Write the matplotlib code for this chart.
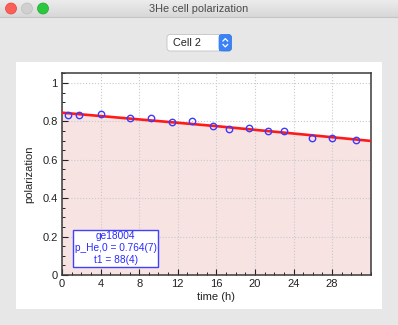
import numpy as np
import matplotlib
matplotlib.use("Agg")
import matplotlib.pyplot as plt
from matplotlib.patches import FancyBboxPatch, Rectangle, Circle
from matplotlib.ticker import MultipleLocator

plt.rcParams['font.family'] = ['Liberation Sans', 'DejaVu Sans']

# measured polarization vs time
time_h = [0.6, 1.8, 4.0, 7.0, 9.2, 11.4, 13.5, 15.65, 17.3, 19.35, 21.4, 23.05, 25.9, 28.0, 30.45]
polar = [0.835, 0.835, 0.836, 0.817, 0.817, 0.798, 0.800, 0.774, 0.758, 0.765, 0.752, 0.750, 0.715, 0.715, 0.705]

# fit curve
fit_t = [0, 16, 32]
fit_p = [0.845, 0.775, 0.698]

cell_name = "Cell 2"
run_id = "ge18004"
p0_text = "p_He,0 = 0.764(7)"
t1_text = "t1 = 88(4)"

W, H = 398, 325
fig = plt.figure(figsize=(W / 100, H / 100), dpi=100)
fig.patch.set_facecolor('#e7e7e7')

# window chrome, drawn in pixel coords
bg = fig.add_axes([0, 0, 1, 1], zorder=0)
bg.set_xlim(0, W)
bg.set_ylim(H, 0)
bg.axis('off')
grad = np.linspace(0, 1, 20).reshape(-1, 1)
bg.imshow(grad, extent=[0, W, 17, 0], cmap=matplotlib.colors.LinearSegmentedColormap.from_list(
    'tb', ['#ececec', '#d8d8d8']), aspect='auto', zorder=1)
bg.plot([0, W], [17, 17], color='#c4c4c4', lw=0.8, zorder=2)
for cx, col, ec in [(11, '#fc5f57', '#df4744'), (27, '#d0d0d0', '#bdbdbd'), (43, '#2ac73f', '#1fa92f')]:
    bg.add_patch(Circle((cx, 8.5), 5.5, facecolor=col, edgecolor=ec, lw=0.5, zorder=3))
bg.text(199, 9, "3He cell polarization", ha='center', va='center', fontsize=7.8, color='#4a4a4a', zorder=3)

# popup button
bg.add_patch(FancyBboxPatch((167, 34.5), 64.5, 16.5, boxstyle='round,pad=0,rounding_size=3',
                            facecolor='white', edgecolor='#c3c3c3', lw=0.6, zorder=3))
bg.add_patch(FancyBboxPatch((219, 34.5), 12.5, 16.5, boxstyle='round,pad=0,rounding_size=3',
                            facecolor='#3a82f7', edgecolor='#3573e0', lw=0.5, zorder=4))
bg.add_patch(Rectangle((219, 34.5), 4, 16.5, facecolor='#3a82f7', edgecolor='none', zorder=4))
bg.plot([223, 225.3, 227.6], [41, 38.6, 41], color='white', lw=0.9, zorder=5)
bg.plot([223, 225.3, 227.6], [44.5, 46.9, 44.5], color='white', lw=0.9, zorder=5)
bg.text(173, 42.5, cell_name, ha='left', va='center', fontsize=7.8, color='#222222', zorder=5)

# white panel behind plot
bg.add_patch(Rectangle((16, 62), 366, 247, facecolor='white', edgecolor='none', zorder=1))

# main plot
ax = fig.add_axes([62 / W, 1 - 275 / H, (370.7 - 62) / W, (275 - 73.3) / H], zorder=2)
ax.fill_between(fit_t, 0, fit_p, color='#f8e3e3', lw=0, zorder=0)
ax.grid(True, which='major', color='#c9c9c9', ls=':', lw=0.8)
ax.set_axisbelow(True)
ax.plot(fit_t, fit_p, color='#ff1a1a', lw=1.9, zorder=3)
ax.plot(time_h, polar, ls='none', marker='o', ms=4.6, mfc='none', mec='#3b3bff', mew=1.0, zorder=4)

ax.set_xlim(0, 32)
ax.set_ylim(0, 1.05)
ax.xaxis.set_major_locator(MultipleLocator(4))
ax.xaxis.set_minor_locator(MultipleLocator(1))
ax.yaxis.set_major_locator(MultipleLocator(0.2))
ax.yaxis.set_minor_locator(MultipleLocator(0.05))
ax.set_xticks([0, 4, 8, 12, 16, 20, 24, 28])
ax.set_yticks([0, 0.2, 0.4, 0.6, 0.8, 1.0])
ax.set_yticklabels(['0', '0.2', '0.4', '0.6', '0.8', '1'])
ax.tick_params(which='both', direction='in', top=False, right=False, labelsize=8, colors='#222222', pad=3)
ax.tick_params(which='major', length=4.5, width=0.8)
ax.tick_params(which='minor', length=2.2, width=0.7)
for s in ax.spines.values():
    s.set_color('#3a3a3a')
    s.set_linewidth(1.1)

ax.set_xlabel('time (h)', fontsize=8, color='#222222', labelpad=2)
ax.set_ylabel('polarization', fontsize=8, color='#222222', labelpad=6)

ax.text(5.57, 0.14, run_id + "\n" + p0_text + "\n" + t1_text, ha='center', va='center',
        fontsize=7.3, color='#2a2aff', multialignment='center', linespacing=1.25, zorder=5,
        bbox=dict(boxstyle='square,pad=0.15', facecolor='white', edgecolor='#4040ff', lw=1.0))

fig.savefig('out.png', dpi=100, facecolor=fig.get_facecolor())
